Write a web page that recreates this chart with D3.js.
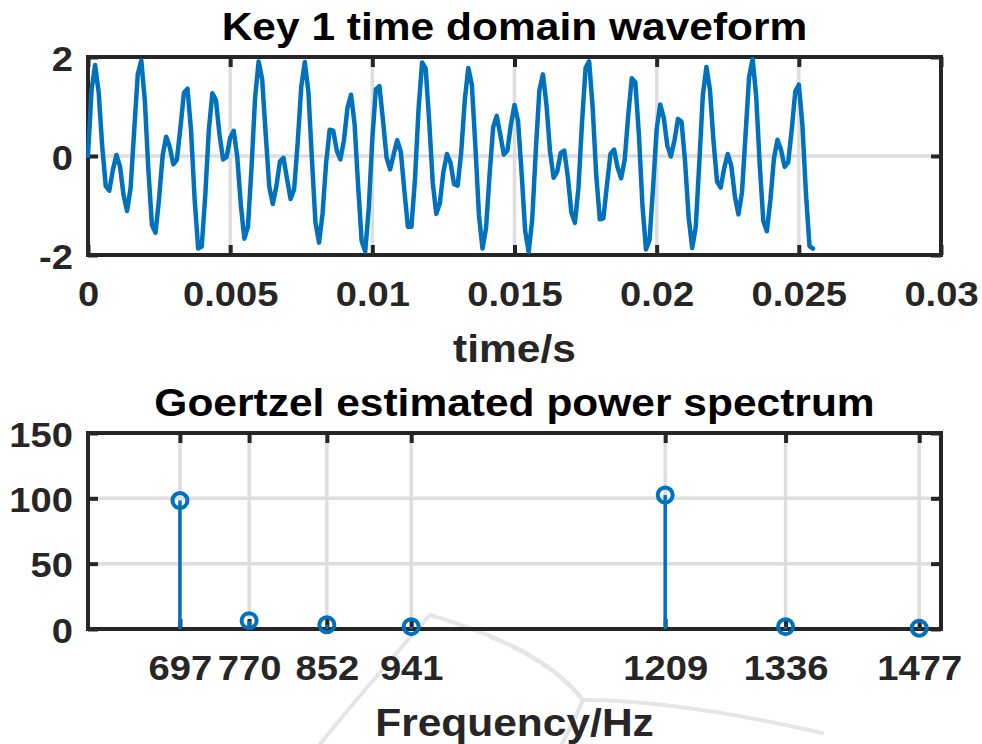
<!DOCTYPE html>
<html>
<head>
<meta charset="utf-8">
<script src="https://cdn.jsdelivr.net/npm/d3@7"></script>
<style>
  html, body { margin: 0; padding: 0; background: #ffffff; }
  svg { display: block; }
</style>
</head>
<body>
<script>
// DTMF key "1" tone (697 Hz + 1209 Hz) sampled at 8 kHz, 205 samples
const sampleRate = 8000;
const signal = [
  0.00, 1.33, 1.84, 1.29, 0.20, -0.61, -0.70, -0.28, 0.02, -0.21,
  -0.79, -1.11, -0.64, 0.52, 1.65, 1.93, 1.11, -0.30, -1.40, -1.55,
  -0.86, 0.01, 0.39, 0.18, -0.17, -0.08, 0.57, 1.28, 1.36, 0.51,
  -0.87, -1.87, -1.83, -0.79, 0.53, 1.27, 1.12, 0.44, -0.07, -0.02,
  0.37, 0.51, -0.02, -0.99, -1.67, -1.43, -0.25, 1.16, 1.91, 1.55,
  0.44, -0.62, -0.97, -0.61, -0.11, -0.04, -0.46, -0.87, -0.67, 0.27,
  1.40, 1.90, 1.31, -0.06, -1.34, -1.75, -1.16, -0.14, 0.53, 0.51,
  0.11, -0.07, 0.31, 0.97, 1.24, 0.65, -0.60, -1.72, -1.93, -1.05,
  0.35, 1.35, 1.41, 0.72, -0.03, -0.27, 0.03, 0.32, 0.09, -0.69,
  -1.43, -1.43, -0.47, 0.94, 1.89, 1.77, 0.70, -0.54, -1.17, -0.95,
  -0.32, 0.04, -0.14, -0.57, -0.60, 0.07, 1.12, 1.78, 1.44, 0.19,
  -1.20, -1.87, -1.45, -0.36, 0.58, 0.81, 0.43, 0.03, 0.11, 0.64,
  1.03, 0.71, -0.34, -1.51, -1.94, -1.27, 0.12, 1.33, 1.65, 1.03,
  0.09, -0.44, -0.32, 0.06, 0.11, -0.42, -1.14, -1.35, -0.64, 0.68,
  1.78, 1.91, 0.97, -0.39, -1.28, -1.26, -0.59, 0.04, 0.13, -0.23,
  -0.45, -0.08, 0.82, 1.57, 1.49, 0.43, -1.00, -1.89, -1.69, -0.62,
  0.54, 1.04, 0.77, 0.21, -0.01, 0.31, 0.75, 0.69, -0.12, -1.24,
  -1.86, -1.43, -0.13, 1.23, 1.80, 1.33, 0.29, -0.52, -0.64, -0.25,
  0.04, -0.20, -0.81, -1.18, -0.74, 0.42, 1.59, 1.96, 1.21, -0.18,
  -1.31, -1.52, -0.89, -0.05, 0.33, 0.12, -0.22, -0.13, 0.53, 1.30,
  1.44, 0.63, -0.75, -1.82, -1.87
];
const timeTicks = [0, 0.005, 0.01, 0.015, 0.02, 0.025, 0.03];
const timeTickLabels = ["0", "0.005", "0.01", "0.015", "0.02", "0.025", "0.03"];
const ampTicks = [-2, 0, 2];

// Goertzel power at the seven DTMF frequencies
const dtmfFreqs = [697, 770, 852, 941, 1209, 1336, 1477];
const goertzelPower = [98.3, 6.4, 3.2, 1.8, 102.5, 1.8, 0.6];
const powerTicks = [0, 50, 100, 150];

const W = 982, H = 744;
const FONT = "'Liberation Sans', Arial, Helvetica, sans-serif";
const SX = 1.09;            // horizontal stretch of all text
const AX = "#262626";       // axis / tick label colour
const GRID = "#dedede";
const BLUE = "#0072BD";
const intLabel = d => String(d);   // plain hyphen-minus for negatives

const svg = d3.select("body").append("svg").attr("width", W).attr("height", H);
svg.append("rect").attr("width", W).attr("height", H).attr("fill", "#ffffff");

// faint background emblem strokes
const mark = svg.append("g").attr("fill", "none").attr("stroke", "#e6e6e6")
  .attr("stroke-width", 4).attr("stroke-linecap", "round");
mark.append("path").attr("d", "M320,744 Q372,680 430,615 C480,630 550,655 583,700 Q574,722 562,744");
mark.append("path").attr("d", "M583,700 C650,700 730,712 822,733");
mark.append("path").attr("d", "M490,637 C525,650 560,672 583,700");

function textAt(x, y, str, size, color, anchor) {
  svg.append("g").attr("transform", `translate(${x},${y}) scale(${SX},1)`)
    .append("text")
    .attr("text-anchor", anchor || "middle")
    .attr("font-family", FONT).attr("font-weight", "bold")
    .attr("font-size", size).attr("fill", color)
    .text(str);
}

function styleAxis(g, showLabels, side) {
  g.select(".domain").remove();
  g.attr("font-family", FONT).attr("font-size", 35).attr("font-weight", "bold");
  g.selectAll(".tick line").attr("stroke", AX).attr("stroke-width", 4);
  if (!showLabels) { g.selectAll(".tick text").remove(); return; }
  const t = g.selectAll(".tick text").attr("fill", AX).attr("transform", `scale(${SX},1)`);
  if (side === "bottom") t.attr("y", 51).attr("dy", null);
  if (side === "left") t.attr("x", -15 / SX).attr("y", 13).attr("dy", null).attr("text-anchor", "end");
}

function panel(box, xs, ys, xTicks, xFmt, yTicks) {
  const grid = svg.append("g").attr("stroke", GRID).attr("stroke-width", 3.5);
  xTicks.forEach(v => grid.append("line")
    .attr("x1", xs(v)).attr("x2", xs(v)).attr("y1", box.t).attr("y2", box.b));
  yTicks.forEach(v => grid.append("line")
    .attr("x1", box.l).attr("x2", box.r).attr("y1", ys(v)).attr("y2", ys(v)));

  svg.append("rect").attr("x", box.l).attr("y", box.t)
    .attr("width", box.r - box.l).attr("height", box.b - box.t)
    .attr("fill", "none").attr("stroke", AX).attr("stroke-width", 4);

  styleAxis(svg.append("g").attr("transform", `translate(0,${box.b})`)
    .call(d3.axisBottom(xs).tickValues(xTicks).tickFormat(xFmt).tickSizeInner(-10).tickSizeOuter(0)), true, "bottom");
  styleAxis(svg.append("g").attr("transform", `translate(0,${box.t})`)
    .call(d3.axisTop(xs).tickValues(xTicks).tickSizeInner(-10).tickSizeOuter(0)), false);
  styleAxis(svg.append("g").attr("transform", `translate(${box.l},0)`)
    .call(d3.axisLeft(ys).tickValues(yTicks).tickFormat(intLabel).tickSizeInner(-10).tickSizeOuter(0)), true, "left");
  styleAxis(svg.append("g").attr("transform", `translate(${box.r},0)`)
    .call(d3.axisRight(ys).tickValues(yTicks).tickSizeInner(-10).tickSizeOuter(0)), false);
}

// ---- time domain waveform ----
const topBox = { l: 88, r: 941, t: 57, b: 255 };
const x1 = d3.scaleLinear().domain([0, 0.03]).range([topBox.l, topBox.r]);
const y1 = d3.scaleLinear().domain([-2, 2]).range([topBox.b, topBox.t]);
panel(topBox, x1, y1, timeTicks, (d, i) => timeTickLabels[i], ampTicks);

svg.append("path").datum(signal)
  .attr("fill", "none").attr("stroke", BLUE).attr("stroke-width", 4.5)
  .attr("stroke-linejoin", "round").attr("stroke-linecap", "round")
  .attr("d", d3.line().x((d, i) => x1(i / sampleRate)).y(d => y1(d)));

textAt((topBox.l + topBox.r) / 2, 40, "Key 1 time domain waveform", 39, "#000000");
textAt((topBox.l + topBox.r) / 2, 362, "time/s", 39, AX);

// ---- Goertzel power spectrum ----
const botBox = { l: 88, r: 941, t: 433, b: 629 };
const x2 = d3.scaleLinear().domain([600, 1500]).range([botBox.l, botBox.r]);
const y2 = d3.scaleLinear().domain([0, 150]).range([botBox.b, botBox.t]);
panel(botBox, x2, y2, dtmfFreqs, intLabel, powerTicks);

const stems = svg.append("g");
dtmfFreqs.forEach((f, i) => {
  stems.append("line")
    .attr("x1", x2(f)).attr("x2", x2(f)).attr("y1", y2(0)).attr("y2", y2(goertzelPower[i]))
    .attr("stroke", BLUE).attr("stroke-width", 3.5);
  stems.append("circle")
    .attr("cx", x2(f)).attr("cy", y2(goertzelPower[i])).attr("r", 7.5)
    .attr("fill", "none").attr("stroke", BLUE).attr("stroke-width", 4);
});

textAt((botBox.l + botBox.r) / 2, 416, "Goertzel estimated power spectrum", 39, "#000000");
textAt((botBox.l + botBox.r) / 2, 736, "Frequency/Hz", 39, AX);
</script>
</body>
</html>
